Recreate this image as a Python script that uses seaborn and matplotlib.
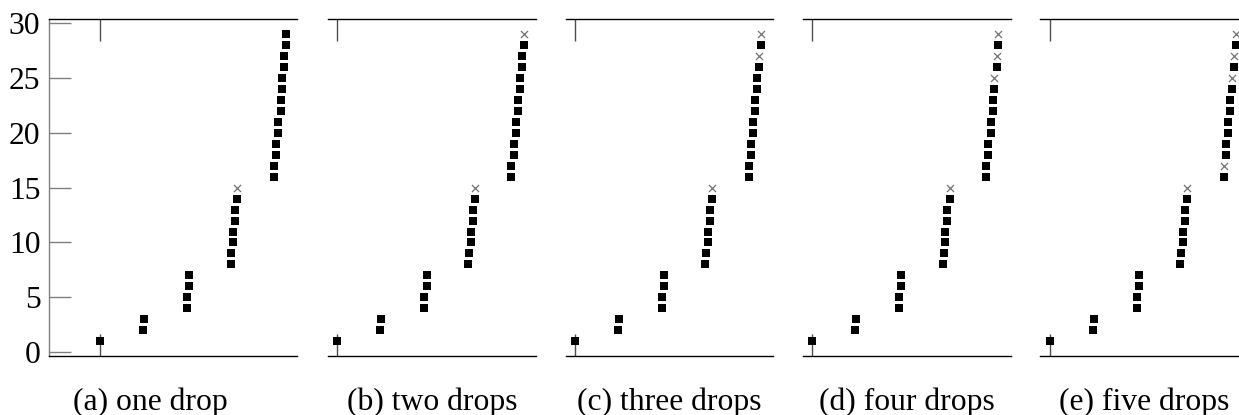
import pandas as pd
import matplotlib
matplotlib.use('Agg')
import matplotlib.pyplot as plt
import seaborn as sns

# request index (y) and its horizontal position
req_y = [1, 2, 3, 4, 5, 6, 7, 8, 9, 10, 11, 12, 13, 14, 15,
         16, 17, 18, 19, 20, 21, 22, 23, 24, 25, 26, 27, 28, 29]
req_x = [1.00, 1.99, 2.01, 3.00, 3.00, 3.05, 3.05,
         4.00, 4.02, 4.06, 4.06, 4.11, 4.11, 4.16, 4.16,
         5.00, 5.00, 5.05, 5.05, 5.10, 5.10, 5.15, 5.15,
         5.19, 5.19, 5.24, 5.24, 5.28, 5.28]

captions = ['(a) one drop', '(b) two drops', '(c) three drops',
            '(d) four drops', '(e) five drops']
dropped = [
    [15],
    [15, 29],
    [15, 27, 29],
    [15, 25, 27, 29],
    [15, 17, 25, 27, 29],
]
y_ticks = [0, 5, 10, 15, 20, 25, 30]


def build_frame():
    rows = []
    for p, drops in enumerate(dropped):
        for x, y in zip(req_x, req_y):
            rows.append({'panel': p, 'x': x, 'y': y,
                         'status': 'dropped' if y in drops else 'kept'})
    return pd.DataFrame(rows)


def main():
    sns.set_theme(style='white')
    plt.rcParams['font.family'] = ['Liberation Serif', 'DejaVu Serif']

    df = build_frame()

    W, H = 1239, 415
    fig = plt.figure(figsize=(W / 100, H / 100), dpi=100)

    px_per_unit = 43.5
    bottom_px, top_px = 356.0, 19.3
    ax_b = (H - bottom_px) / H
    ax_h = (bottom_px - top_px) / H

    for p, cap in enumerate(captions):
        tick_px = 100 + 237.4 * p
        if p == 0:
            xlim = (-0.175, 5.52)
        else:
            xlim = (0.79, 5.56)
        left_px = tick_px - (1 - xlim[0]) * px_per_unit
        width_px = (xlim[1] - xlim[0]) * px_per_unit
        ax = fig.add_axes([left_px / W, ax_b, width_px / W, ax_h])

        sub = df[df['panel'] == p]
        kept = sub[sub['status'] == 'kept']
        lost = sub[sub['status'] == 'dropped']
        sns.scatterplot(data=kept, x='x', y='y', marker='s', s=28,
                        color='black', linewidth=0, ax=ax, zorder=3,
                        clip_on=False, legend=False)
        sns.scatterplot(data=lost, x='x', y='y', marker='x', s=26,
                        color='0.45', linewidth=0.9, ax=ax, zorder=3,
                        clip_on=False, legend=False)

        ax.set_xlim(*xlim)
        ax.set_ylim(-0.35, 30.35)
        ax.set_xlabel('')
        ax.set_ylabel('')
        ax.set_xticks([1])
        ax.tick_params(axis='x', direction='in', top=True, bottom=True,
                       length=15.5, width=1, color='0.3',
                       labelbottom=False, labeltop=False)

        for side in ['top', 'bottom']:
            ax.spines[side].set_color('black')
            ax.spines[side].set_linewidth(1.0)
        ax.spines['right'].set_visible(False)

        if p == 0:
            ax.set_yticks(y_ticks)
            ax.set_yticklabels([str(t) for t in y_ticks])
            ax.spines['left'].set_color('0.5')
            ax.spines['left'].set_linewidth(1.0)
            ax.tick_params(axis='y', direction='in', left=True, right=False,
                           length=15.5, width=1, color='0.5',
                           labelsize=22.75, pad=6, labelcolor='black')
            cap_x = 150
        else:
            ax.set_yticks([])
            ax.spines['left'].set_visible(False)
            cap_x = left_px + width_px / 2

        fig.text(cap_x / W, 1 - 410 / H, cap, ha='center', va='baseline',
                 fontsize=22.75, color='black')

    fig.savefig('out.png', dpi=100)


if __name__ == '__main__':
    main()
